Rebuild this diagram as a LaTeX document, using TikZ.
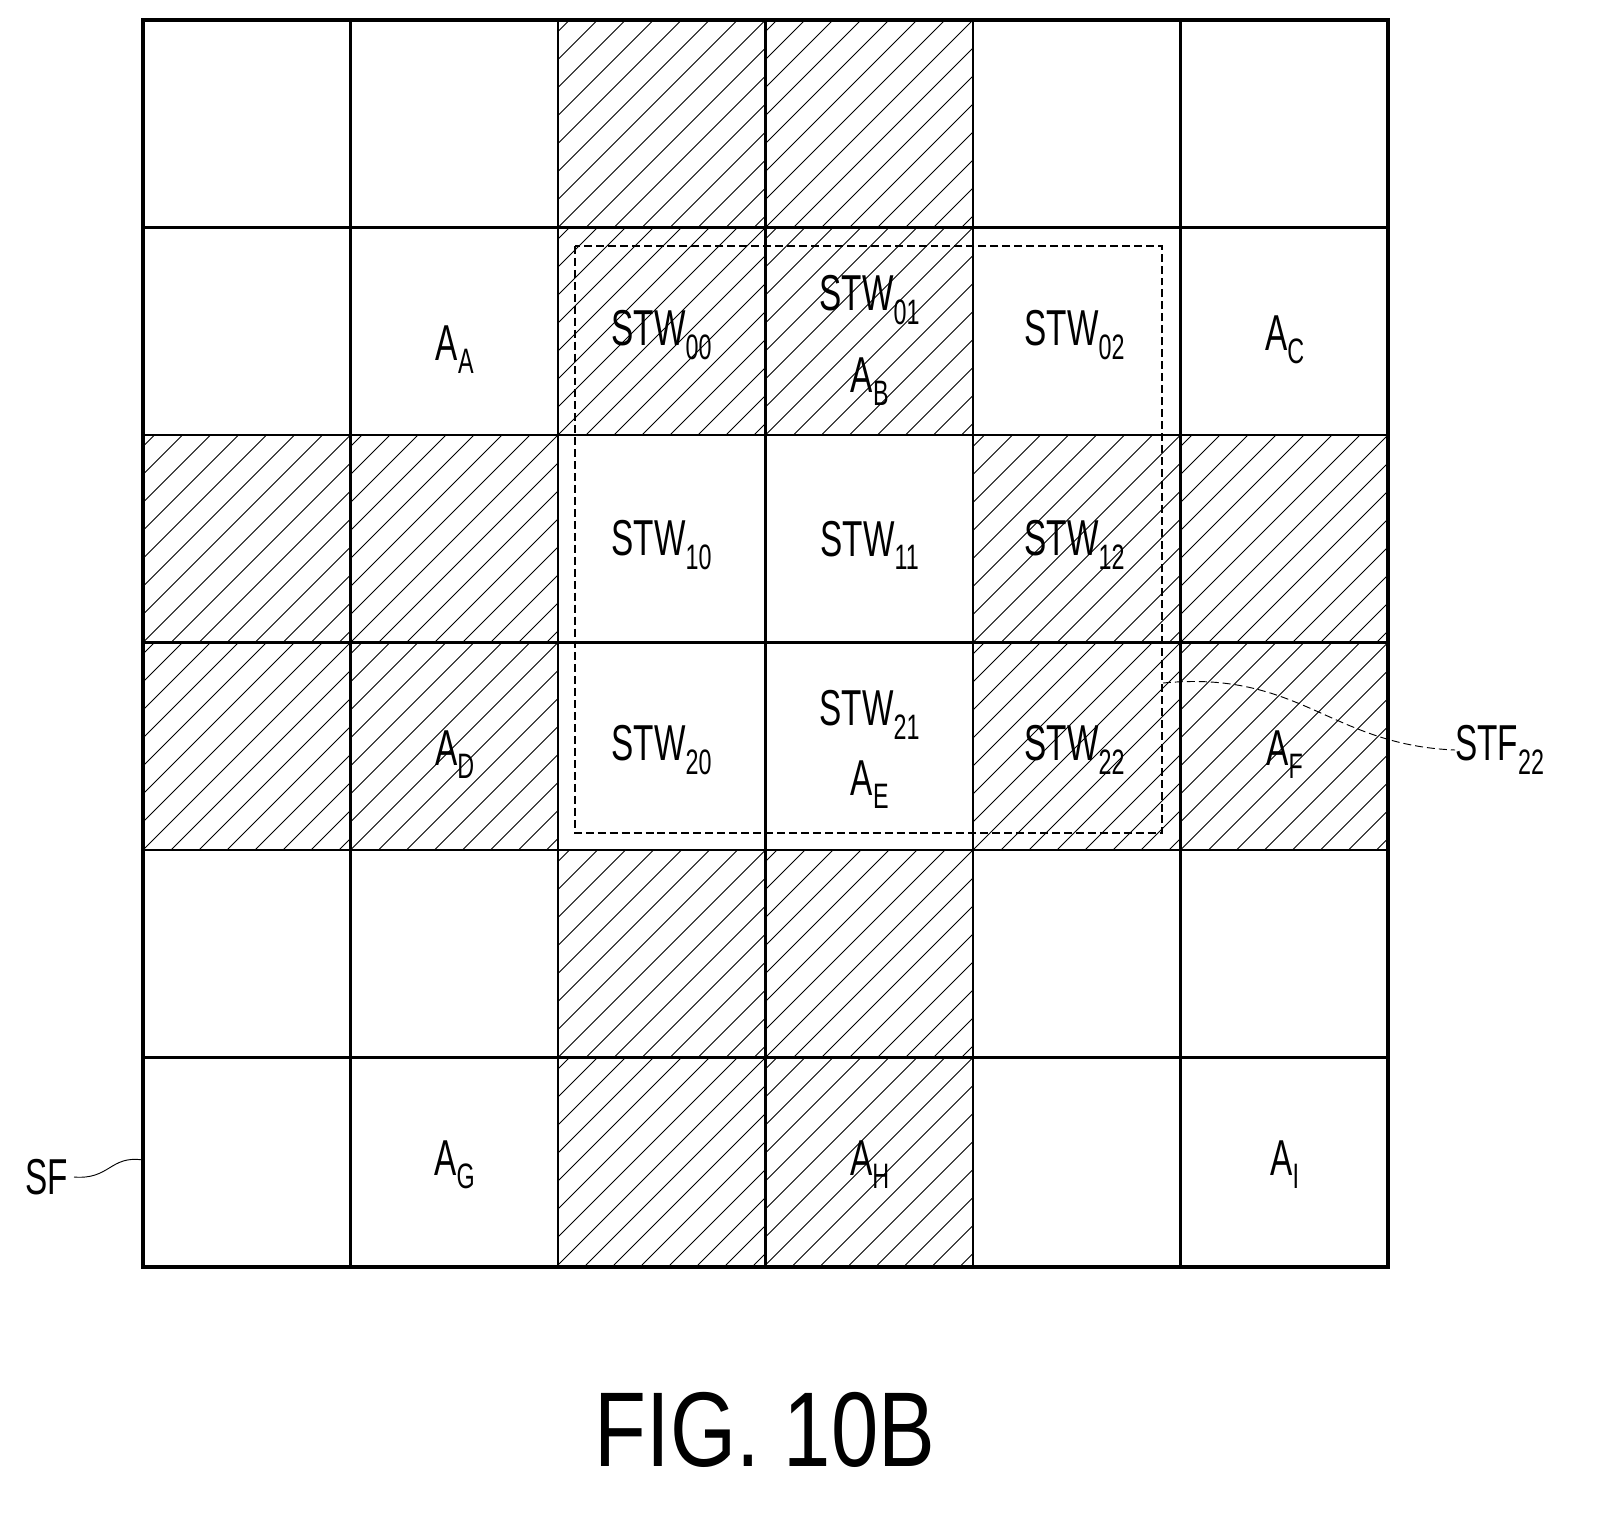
\documentclass[tikz,border=0pt]{standalone}
\usepackage{fontspec}
\setmainfont[FakeStretch=0.66]{Liberation Sans}
\newfontfamily\figfont[FakeStretch=0.8]{Liberation Sans}
\usetikzlibrary{positioning}

\tikzset{
    cell line/.style={line width=1.6pt},
    hatch line/.style={line width=0.6pt},
    window box/.style={dash pattern=on 6pt off 3pt,line width=0.8pt},
    lbl/.style={font=\fontsize{38}{40}\selectfont,inner sep=0pt},
    leader/.style={line width=0.7pt}
}

% hatch one cell of the grid: column, row (cell size 207.5)
\newcommand{\hatchcell}[2]{%
    \begin{scope}
        \clip (143+#1*207.5,20+#2*207.5) rectangle ++(207.5,207.5);
        \foreach \k in {-224,-196,...,224}{
            \draw[hatch line] (143+#1*207.5+\k,20+#2*207.5+207.5) -- ++(220,-220);
        }
    \end{scope}}

\begin{document}
\begin{tikzpicture}[x=0.02646cm,y=-0.02646cm]
    \useasboundingbox (0,0) rectangle (1607,1523);

    % hatched cells
    \foreach \c/\r in {2/0,3/0,2/1,3/1,0/2,1/2,4/2,5/2,0/3,1/3,4/3,5/3,2/4,3/4,2/5,3/5}{
        \hatchcell{\c}{\r}
    }

    % draw the grid of the frame
    \foreach \i in {1,...,5}{
        \draw[cell line] (143+\i*207.5,20) -- (143+\i*207.5,1267);
        \draw[cell line] (143,20+\i*207.5) -- (1388,20+\i*207.5);
    }
    \draw[line width=2.4pt] (143,20) rectangle (1388,1267);

    % dashed window
    \draw[window box] (575,246) rectangle (1162,833);

    % labels of the areas and windows
    \node[lbl] (aa) at (455,350) {A\textsubscript{A}};
    \node[lbl] (stw00) at (662,335) {STW\textsubscript{00}};
    \node[lbl] (stw01) at (870,300) {STW\textsubscript{01}};
    \node[lbl] (ab) at (870,382) {A\textsubscript{B}};
    \node[lbl] (stw02) at (1075,335) {STW\textsubscript{02}};
    \node[lbl] (ac) at (1285,340) {A\textsubscript{C}};

    \node[lbl] (stw10) at (662,545) {STW\textsubscript{10}};
    \node[lbl] (stw11) at (870,545) {STW\textsubscript{11}};
    \node[lbl] (stw12) at (1075,545) {STW\textsubscript{12}};

    \node[lbl] (ad) at (455,755) {A\textsubscript{D}};
    \node[lbl] (stw20) at (662,750) {STW\textsubscript{20}};
    \node[lbl] (stw21) at (870,715) {STW\textsubscript{21}};
    \node[lbl] (ae) at (870,785) {A\textsubscript{E}};
    \node[lbl] (stw22) at (1075,750) {STW\textsubscript{22}};
    \node[lbl] (af) at (1285,755) {A\textsubscript{F}};

    \node[lbl] (ag) at (455,1165) {A\textsubscript{G}};
    \node[lbl] (ah) at (870,1165) {A\textsubscript{H}};
    \node[lbl] (ai) at (1285,1165) {A\textsubscript{I}};

    % reference signs
    \node[lbl,anchor=west] (stf) at (1455,750) {STF\textsubscript{22}};
    \node[lbl,anchor=east] (sf) at (68,1177) {SF};
    \coordinate (stfend) at (1163,683);
    \coordinate (sfend) at (143,1160);
    \draw[leader,dash pattern=on 6pt off 3pt] (stfend) .. controls (1300,670) and (1330,745) .. (stf.west);
    \draw[leader] (sf.east) ++(6,0) .. controls (110,1180) and (110,1155) .. (sfend);

    \node[font=\figfont\fontsize{80}{90}\selectfont] (fig) at (765,1430) {FIG. 10B};
\end{tikzpicture}
\end{document}
